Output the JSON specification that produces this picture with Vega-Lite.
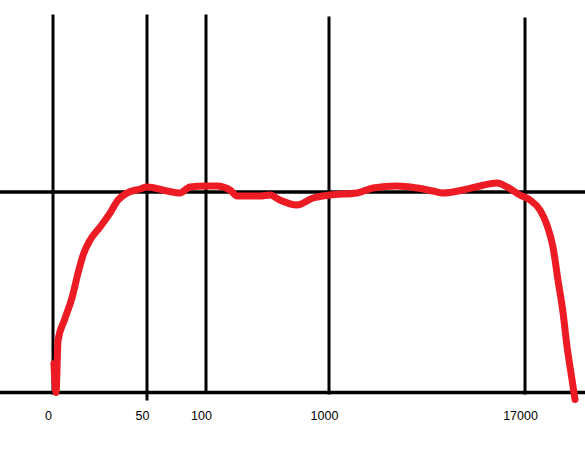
{
  "$schema": "https://vega.github.io/schema/vega-lite/v6.json",
  "width": 585,
  "height": 449,
  "autosize": "none",
  "padding": 0,
  "background": "white",
  "config": {"view": {"stroke": null}},
  "layer": [
    {
      "data": {"values": [{"level": 0}, {"level": -20}]},
      "mark": {"type": "rule", "color": "black", "strokeWidth": 3.5},
      "encoding": {
        "y": {"field": "level", "type": "quantitative", "axis": null,
              "scale": {"domain": [0, -20], "range": [192, 392.5], "zero": false, "nice": false}}
      }
    },
    {
      "data": {"values": [
        {"freq": 0, "top": 17.7, "bottom": -20.2},
        {"freq": 50, "top": 17.7, "bottom": -20.8},
        {"freq": 100, "top": 17.7, "bottom": -20.1},
        {"freq": 1000, "top": 17.5, "bottom": -20.2},
        {"freq": 17000, "top": 17.4, "bottom": -20.2}
      ]},
      "mark": {"type": "rule", "color": "black", "strokeWidth": 3},
      "encoding": {
        "x": {"field": "freq", "type": "quantitative",
              "scale": {"type": "linear", "domain": [0, 50, 100, 1000, 17000], "range": [53, 147, 206, 329, 525], "zero": false, "nice": false},
              "axis": {"values": [0, 50, 100, 1000, 17000], "domain": false, "ticks": false, "grid": false, "title": null,
                       "offset": -56.5, "labelPadding": 17, "labelOffset": -5, "labelFont": "Liberation Sans",
                       "labelFontSize": 12.5, "labelColor": "black", "labelFlush": false, "labelOverlap": false,
                       "format": "d"}},
        "y": {"field": "top", "type": "quantitative", "axis": null,
              "scale": {"domain": [0, -20], "range": [192, 392.5], "zero": false, "nice": false}},
        "y2": {"field": "bottom"}
      }
    },
    {
      "data": {"values": [
        {"freq": 1.6, "level": -20.0},
        {"freq": 0.5, "level": -17.1},
        {"freq": 2.7, "level": -14.8},
        {"freq": 6.0, "level": -12.8},
        {"freq": 10.2, "level": -10.5},
        {"freq": 13.3, "level": -8.1},
        {"freq": 16.0, "level": -6.3},
        {"freq": 19.7, "level": -4.8},
        {"freq": 25.0, "level": -3.5},
        {"freq": 30.3, "level": -2.1},
        {"freq": 34.6, "level": -0.8},
        {"freq": 39.4, "level": -0.1},
        {"freq": 46.3, "level": 0.3},
        {"freq": 50, "level": 0.5},
        {"freq": 66.9, "level": 0.1},
        {"freq": 78, "level": -0.1},
        {"freq": 86.4, "level": 0.5},
        {"freq": 99.2, "level": 0.6},
        {"freq": 180, "level": 0.6},
        {"freq": 276, "level": 0.2},
        {"freq": 327, "level": -0.4},
        {"freq": 495, "level": -0.4},
        {"freq": 568, "level": -0.3},
        {"freq": 641, "level": -0.8},
        {"freq": 766, "level": -1.3},
        {"freq": 883, "level": -0.6},
        {"freq": 1082, "level": -0.3},
        {"freq": 3286, "level": -0.1},
        {"freq": 4592, "level": 0.4},
        {"freq": 6551, "level": 0.6},
        {"freq": 8184, "level": 0.4},
        {"freq": 9490, "level": 0.1},
        {"freq": 10306, "level": -0.1},
        {"freq": 11939, "level": 0.2},
        {"freq": 13327, "level": 0.6},
        {"freq": 14714, "level": 0.9},
        {"freq": 15531, "level": 0.5},
        {"freq": 16592, "level": -0.3},
        {"freq": 17408, "level": -0.8},
        {"freq": 18224, "level": -1.8},
        {"freq": 18796, "level": -3.3},
        {"freq": 19286, "level": -5.5},
        {"freq": 19694, "level": -8.8},
        {"freq": 20102, "level": -12.0},
        {"freq": 20429, "level": -15.4},
        {"freq": 20837, "level": -18.7},
        {"freq": 21082, "level": -20.7}
      ]},
      "mark": {"type": "line", "color": "#ED1C24", "strokeWidth": 7, "strokeCap": "round", "strokeJoin": "round", "interpolate": "monotone"},
      "encoding": {
        "x": {"field": "freq", "type": "quantitative", "sort": null,
              "scale": {"type": "linear", "domain": [0, 50, 100, 1000, 17000], "range": [53, 147, 206, 329, 525], "zero": false, "nice": false},
              "axis": {"values": [0, 50, 100, 1000, 17000], "domain": false, "ticks": false, "grid": false, "title": null,
                       "offset": -56.5, "labelPadding": 17, "labelOffset": -5, "labelFont": "Liberation Sans",
                       "labelFontSize": 12.5, "labelColor": "black", "labelFlush": false, "labelOverlap": false,
                       "format": "d"}},
        "y": {"field": "level", "type": "quantitative", "axis": null,
              "scale": {"domain": [0, -20], "range": [192, 392.5], "zero": false, "nice": false}}
      }
    }
  ]
}
